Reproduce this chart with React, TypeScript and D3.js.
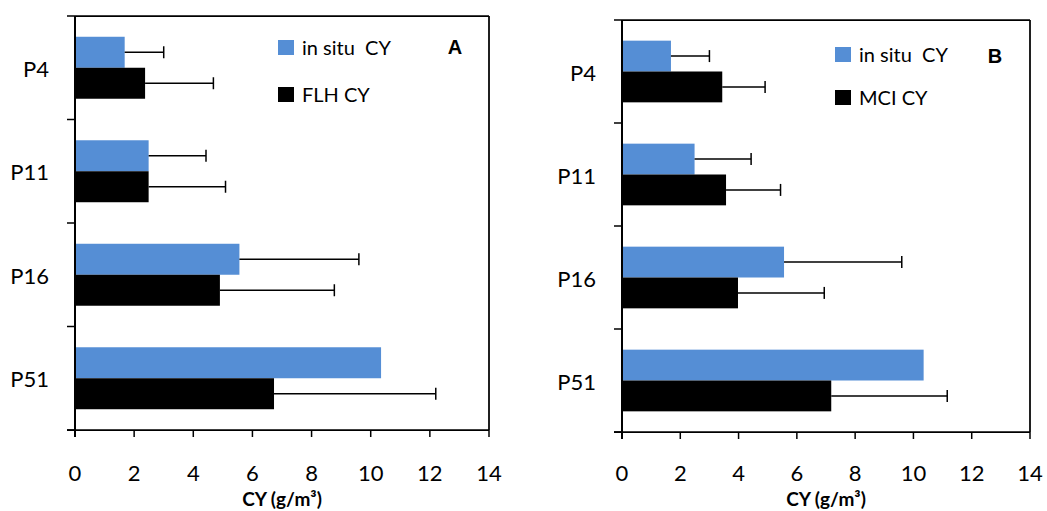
import React, { useEffect, useRef } from 'react';
import * as d3 from 'd3';

// stations and series
const stations = ['P4', 'P11', 'P16', 'P51'];
const xTicks = [0, 2, 4, 6, 8, 10, 12, 14];

const inSitu = [1.68, 2.49, 5.56, 10.35];
const inSituErr = [1.32, 1.94, 4.04, null];

const flh = [2.37, 2.49, 4.9, 6.73];
const flhErr = [2.31, 2.6, 3.87, 5.47];

const mci = [3.44, 3.57, 3.98, 7.18];
const mciErr = [1.47, 1.87, 2.96, 3.98];

const BLUE = '#558ed5';
const FONT = 'Lato, "Open Sans", sans-serif';

const panels = [
    {
        letter: 'A',
        box: { left: 75, right: 489, top: 16, bottom: 430 },
        legend: { x: 278, y: 40, gap: 47 },
        series: [
            { name: 'in situ  CY', values: inSitu, err: inSituErr, color: BLUE },
            { name: 'FLH CY', values: flh, err: flhErr, color: '#000' },
        ],
        letterPos: { x: 455, y: 54 },
    },
    {
        letter: 'B',
        box: { left: 622, right: 1030, top: 20, bottom: 432 },
        legend: { x: 835, y: 47, gap: 43 },
        series: [
            { name: 'in situ  CY', values: inSitu, err: inSituErr, color: BLUE },
            { name: 'MCI CY', values: mci, err: mciErr, color: '#000' },
        ],
        letterPos: { x: 995, y: 63 },
    },
];

// draw one panel into the svg
const drawPanel = (svg, p) => {
    const { left, right, top, bottom } = p.box;
    const g = svg.append('g');

    const x = d3.scaleLinear().domain([0, 14]).range([left, right]);
    const y = d3.scaleBand().domain(stations).range([top, bottom]).padding(0);
    const sub = d3.scaleBand()
        .domain(p.series.map((s) => s.name))
        .range([0, y.bandwidth()])
        .paddingInner(0)
        .paddingOuter(0.67);

    // frame top / right
    g.append('line').attr('x1', left).attr('x2', right).attr('y1', top).attr('y2', top)
        .attr('stroke', '#000').attr('stroke-width', 1.75);
    g.append('line').attr('x1', right).attr('x2', right).attr('y1', top).attr('y2', bottom)
        .attr('stroke', '#000').attr('stroke-width', 1.75);

    // bars
    p.series.forEach((s) => {
        g.selectAll(null)
            .data(stations)
            .enter()
            .append('rect')
            .attr('x', x(0))
            .attr('y', (d) => y(d) + sub(s.name))
            .attr('width', (d, i) => x(s.values[i]) - x(0))
            .attr('height', sub.bandwidth())
            .attr('fill', s.color);
    });

    // error bars (upper side only)
    p.series.forEach((s) => {
        stations.forEach((st, i) => {
            if (s.err[i] == null) return;
            const cy = y(st) + sub(s.name) + sub.bandwidth() / 2;
            const x0 = x(s.values[i]);
            const x1 = x(s.values[i] + s.err[i]);
            g.append('line').attr('x1', x0).attr('x2', x1).attr('y1', cy).attr('y2', cy)
                .attr('stroke', '#000').attr('stroke-width', 1.5);
            g.append('line').attr('x1', x1).attr('x2', x1).attr('y1', cy - 6).attr('y2', cy + 6)
                .attr('stroke', '#000').attr('stroke-width', 1.5);
        });
    });

    // x axis
    g.append('line').attr('x1', left - 8).attr('x2', right).attr('y1', bottom).attr('y2', bottom)
        .attr('stroke', '#000').attr('stroke-width', 1.75);
    g.selectAll(null).data(xTicks).enter().append('line')
        .attr('x1', (d) => x(d)).attr('x2', (d) => x(d))
        .attr('y1', bottom).attr('y2', bottom + 7)
        .attr('stroke', '#000').attr('stroke-width', 1.5);
    g.selectAll(null).data(xTicks).enter().append('text')
        .attr('x', (d) => x(d))
        .attr('y', 481)
        .attr('text-anchor', 'middle')
        .style('font-family', FONT)
        .style('font-size', '22px')
        .text((d) => d);
    g.append('text')
        .attr('x', (left + right) / 2)
        .attr('y', 506)
        .attr('text-anchor', 'middle')
        .style('font-family', FONT)
        .style('font-size', '19px')
        .style('font-weight', 'bold')
        .text('CY (g/m³)');

    // y axis
    g.append('line').attr('x1', left).attr('x2', left).attr('y1', top).attr('y2', bottom + 7)
        .attr('stroke', '#000').attr('stroke-width', 2);
    const bounds = stations.map((d) => y(d)).concat([bottom]);
    g.selectAll(null).data(bounds).enter().append('line')
        .attr('x1', left - 8).attr('x2', left)
        .attr('y1', (d) => d).attr('y2', (d) => d)
        .attr('stroke', '#000').attr('stroke-width', 1.5);
    g.selectAll(null).data(stations).enter().append('text')
        .attr('x', left - 26)
        .attr('y', (d) => y(d) + y.bandwidth() / 2 + 9)
        .attr('text-anchor', 'end')
        .style('font-family', FONT)
        .style('font-size', '22px')
        .text((d) => d);

    // legend
    p.series.forEach((s, i) => {
        const ly = p.legend.y + i * p.legend.gap;
        g.append('rect').attr('x', p.legend.x).attr('y', ly).attr('width', 16).attr('height', 15)
            .attr('fill', s.color);
        g.append('text')
            .attr('x', p.legend.x + 24)
            .attr('y', ly + 15)
            .style('font-family', FONT)
            .style('font-size', '20px')
            .style('white-space', 'pre')
            .text(s.name);
    });

    // panel letter
    g.append('text')
        .attr('x', p.letterPos.x)
        .attr('y', p.letterPos.y)
        .attr('text-anchor', 'middle')
        .style('font-family', '"Liberation Sans", Arial, sans-serif')
        .style('font-size', '20px')
        .style('font-weight', 'bold')
        .text(p.letter);
};

const App = () => {
    const ref = useRef(null);

    useEffect(() => {
        const svg = d3.select(ref.current);
        svg.selectAll('*').remove();
        panels.forEach((p) => drawPanel(svg, p));
    }, []);

    return (
        <svg
            ref={ref}
            width={1047}
            height={511}
            style={{ position: 'absolute', left: 0, top: 0, background: '#fff' }}
        />
    );
};

export default App;
